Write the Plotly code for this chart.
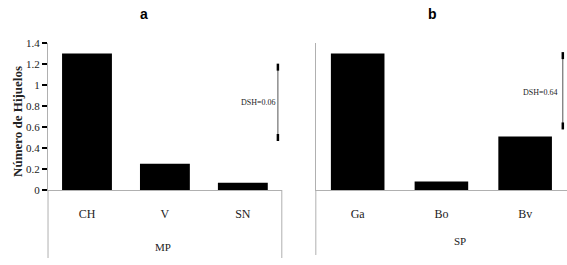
import plotly.graph_objects as go

# ---- data ----
mp_categories = ["CH", "V", "SN"]
mp_values = [1.30, 0.25, 0.07]
sp_categories = ["Ga", "Bo", "Bv"]
sp_values = [1.30, 0.08, 0.51]

y_tickvals = [0, 0.2, 0.4, 0.6, 0.8, 1.0, 1.2, 1.4]
y_ticktext = ["0", "0.2", "0.4", "0.6", "0.8", "1", "1.2", "1.4"]

dsh_labels = ["DSH=0.06", "DSH=0.64"]
dsh_a = [0.50, 1.17]   # bottom, top of DSH bar in panel a
dsh_b = [0.61, 1.28]   # bottom, top of DSH bar in panel b
dsh_xpos = 2.45

panel_titles = ["a", "b"]
axis_titles = ["MP", "SP"]
y_title = "Número de Hijuelos"

serif = "Liberation Serif, Times New Roman, serif"
sans = "Liberation Sans, Arial, sans-serif"

mp_pos = list(range(len(mp_categories)))
sp_pos = list(range(len(sp_categories)))

fig = go.Figure()

fig.add_trace(go.Bar(x=mp_pos, y=mp_values, marker=dict(color="black", line=dict(width=0)),
                     xaxis="x", yaxis="y", showlegend=False))
fig.add_trace(go.Bar(x=sp_pos, y=sp_values, marker=dict(color="black", line=dict(width=0)),
                     xaxis="x2", yaxis="y2", showlegend=False))

# DSH bars
for xa, ya, vals in (("x", "y", dsh_a), ("x2", "y2", dsh_b)):
    fig.add_trace(go.Scatter(x=[dsh_xpos, dsh_xpos], y=vals, mode="lines+markers",
                             line=dict(color="#555555", width=1),
                             marker=dict(symbol="line-ns", size=5, line=dict(width=2.5, color="black")),
                             xaxis=xa, yaxis=ya, showlegend=False, cliponaxis=False))

axis_common_x = dict(type="linear", range=[-0.5, 2.5], showline=True, linecolor="#b0b0b0", linewidth=1,
                     ticks="", showgrid=False, zeroline=False,
                     tickfont=dict(family=serif, size=12, color="#222"),
                     ticklabelstandoff=13)

fig.update_layout(
    width=567, height=265,
    margin=dict(l=0, r=0, t=43, b=75),
    paper_bgcolor="white", plot_bgcolor="white",
    bargap=0.36,
    xaxis=dict(domain=[0.0847, 0.497], anchor="y", tickvals=mp_pos, ticktext=mp_categories,
               **axis_common_x),
    xaxis2=dict(domain=[0.557, 1.0], anchor="y2", tickvals=sp_pos, ticktext=sp_categories,
                **axis_common_x),
    yaxis=dict(range=[0, 1.4], anchor="x", showline=True, linecolor="#b0b0b0", linewidth=1,
               ticks="outside", ticklen=5, tickwidth=2, tickcolor="black",
               tickvals=y_tickvals, ticktext=y_ticktext, showgrid=False, zeroline=False,
               tickfont=dict(family=serif, size=11, color="#222")),
    yaxis2=dict(range=[0, 1.4], anchor="x2", showline=True, linecolor="#b0b0b0", linewidth=1,
                ticks="", showticklabels=False, showgrid=False, zeroline=False),
    shapes=[
        dict(type="line", xref="x domain", yref="y domain", x0=0, x1=0, y0=0, y1=-0.4626,
             line=dict(color="#b0b0b0", width=1)),
        dict(type="line", xref="x domain", yref="y domain", x0=1, x1=1, y0=0, y1=-0.4626,
             line=dict(color="#b0b0b0", width=1)),
        dict(type="line", xref="x2 domain", yref="y2 domain", x0=0, x1=0, y0=0, y1=-0.442,
             line=dict(color="#b0b0b0", width=1)),
    ],
    annotations=[
        dict(text="<b>" + panel_titles[0] + "</b>", x=144 / 567, y=1.197, xref="paper", yref="paper",
             showarrow=False, font=dict(family=sans, size=14, color="black"),
             xanchor="center", yanchor="middle"),
        dict(text="<b>" + panel_titles[1] + "</b>", x=432 / 567, y=1.197, xref="paper", yref="paper",
             showarrow=False, font=dict(family=sans, size=14, color="black"),
             xanchor="center", yanchor="middle"),
        dict(text=axis_titles[0], x=163 / 567, y=-0.388, xref="paper", yref="paper", showarrow=False,
             font=dict(family=serif, size=11, color="#222"), xanchor="center", yanchor="middle"),
        dict(text=axis_titles[1], x=460 / 567, y=-0.35, xref="paper", yref="paper", showarrow=False,
             font=dict(family=serif, size=11, color="#222"), xanchor="center", yanchor="middle"),
        dict(text="<b>" + y_title + "</b>", x=18 / 567, y=0.463, xref="paper", yref="paper",
             showarrow=False, textangle=-90,
             font=dict(family=serif, size=13, color="#222"), xanchor="center", yanchor="middle"),
        dict(text=dsh_labels[0], x=258 / 567, y=0.595, xref="paper", yref="paper", showarrow=False,
             font=dict(family=serif, size=8, color="#222"), xanchor="center", yanchor="middle"),
        dict(text=dsh_labels[1], x=540 / 567, y=0.66, xref="paper", yref="paper", showarrow=False,
             font=dict(family=serif, size=8, color="#222"), xanchor="center", yanchor="middle"),
    ],
)

fig.write_html("out.html", config={"displayModeBar": False},
               post_script="document.body.style.margin='0';")
